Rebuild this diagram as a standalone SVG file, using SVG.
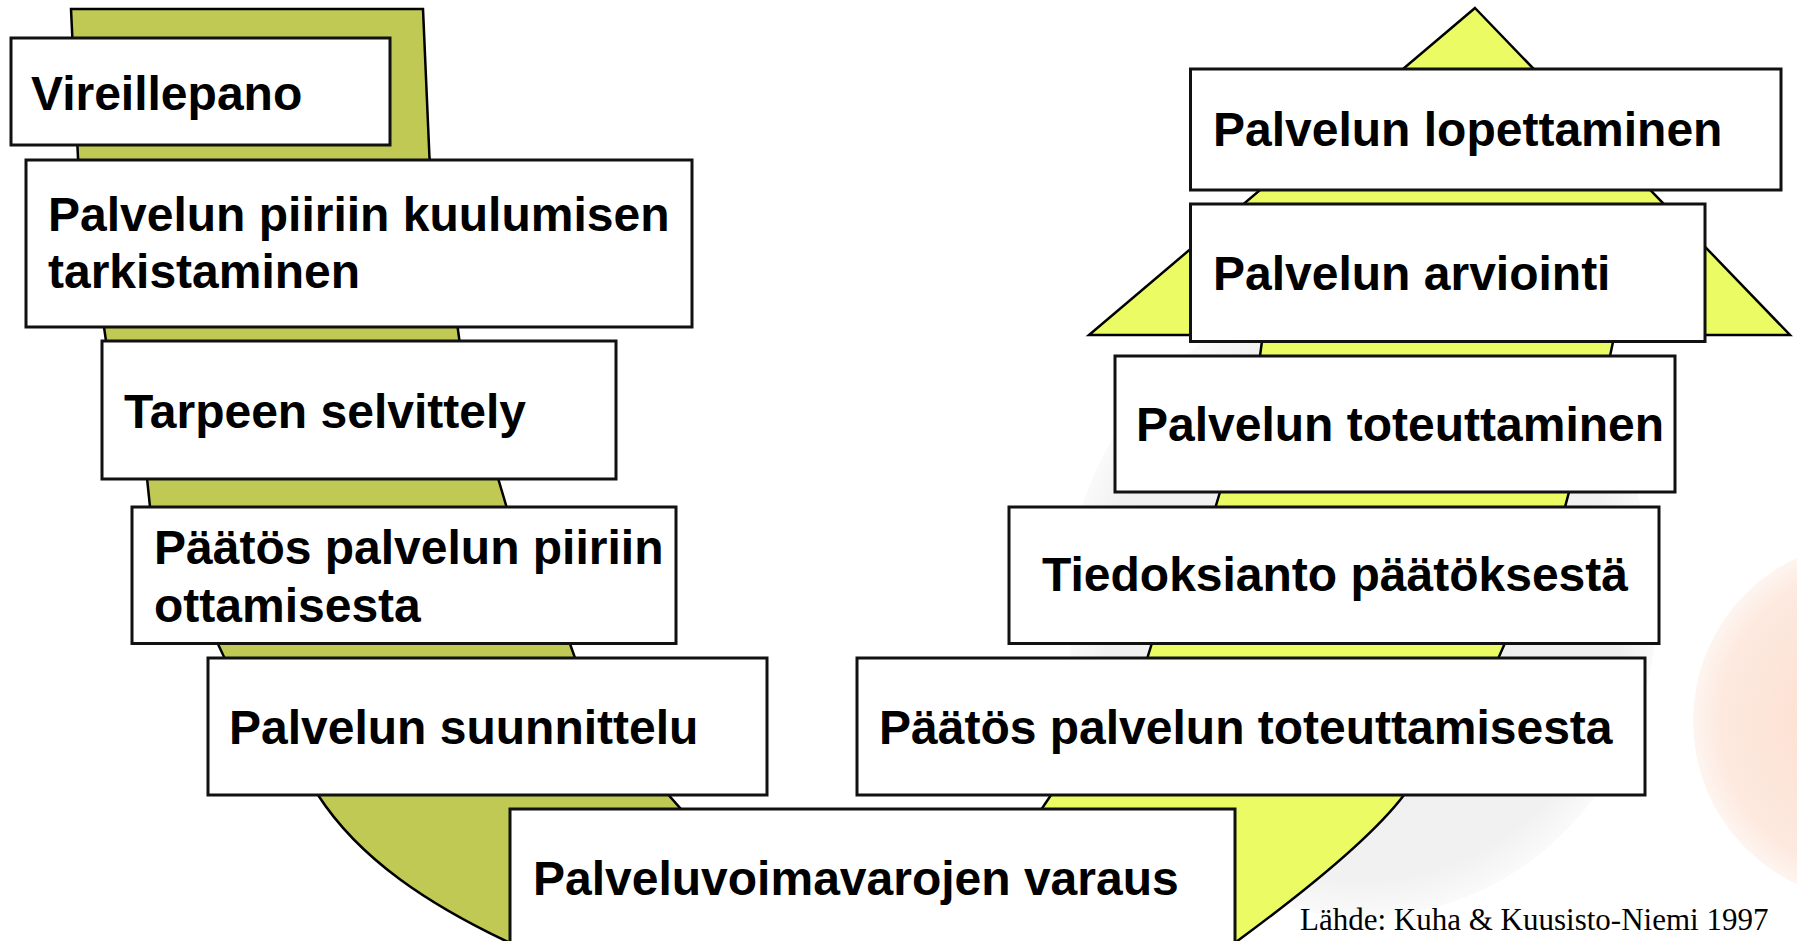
<svg xmlns="http://www.w3.org/2000/svg" width="1797" height="941" viewBox="0 0 1797 941">
<defs>
<radialGradient id="gGray" cx="0.5" cy="0.5" r="0.5">
<stop offset="0" stop-color="#efefef"/>
<stop offset="0.88" stop-color="#f1f1f1"/>
<stop offset="1" stop-color="#fafafa"/>
</radialGradient>
<radialGradient id="gPeach" cx="0.5" cy="0.5" r="0.5">
<stop offset="0" stop-color="#fbdccb"/>
<stop offset="0.85" stop-color="#fde9df"/>
<stop offset="1" stop-color="#fef5f0"/>
</radialGradient>
<style>
.box{fill:#ffffff;stroke:#111111;stroke-width:3}
.lbl{font-family:"Liberation Sans",Arial,sans-serif;font-weight:bold;font-size:48px;fill:#000000}
.band{stroke:#000000;stroke-width:2.5;stroke-linejoin:miter}
.green{fill:#bfc953}
.yellow{fill:#ebfb63}
.src{font-family:"Liberation Serif","Times New Roman",serif;font-size:31px;fill:#000000}
</style>
</defs>
<rect x="0" y="0" width="1797" height="941" fill="#ffffff"/>
<g id="background">
<ellipse cx="1362" cy="605" rx="295" ry="312" fill="url(#gGray)"/>
<circle cx="1873" cy="721" r="180" fill="url(#gPeach)"/>
</g>
<g id="connectors">
<path class="band green" d="M71,9 L423,9 L429.5,158 L457.6,327 L459.5,341 L498,478 L506.6,507 L569.7,643 L575,658 L668.6,795 L681,809 L870,960 L510,960 L508,942 C430,905 360,860 318,795 L224.5,658 L217.5,643 L150,507 L147,478 L106,341 L104,327 L78,158 Z"/>
<path class="band yellow" d="M1475,8 L1790,335 L1614.5,335 L1613,342 L1610,356 L1569,492 L1565,507 L1505,643 L1498,659 L1404,795 C1370,840 1300,895 1236,942 L1236,960 L880,960 L1041,810 L1051,795 L1147,659 L1152,643 L1215.5,507 L1220,492 L1260,356 L1262,341 L1262.8,335 L1089,335 Z"/>
</g>
<g id="n-vireillepano">
<rect class="box" x="11" y="38" width="379" height="107"/>
<text class="lbl" x="31" y="110">Vireillepano</text>
</g>
<g id="n-tarkistaminen">
<rect class="box" x="26" y="160" width="666" height="167"/>
<text class="lbl" x="48" y="231">Palvelun piiriin kuulumisen</text>
<text class="lbl" x="48" y="288">tarkistaminen</text>
</g>
<g id="n-tarpeen-selvittely">
<rect class="box" x="102" y="341" width="514" height="138"/>
<text class="lbl" x="124" y="428">Tarpeen selvittely</text>
</g>
<g id="n-paatos-piiriin">
<rect class="box" x="132" y="507" width="544" height="136.5"/>
<text class="lbl" x="154" y="564">Päätös palvelun piiriin</text>
<text class="lbl" x="154" y="622">ottamisesta</text>
</g>
<g id="n-suunnittelu">
<rect class="box" x="208" y="658" width="559" height="137"/>
<text class="lbl" x="229" y="744">Palvelun suunnittelu</text>
</g>
<g id="n-varaus">
<rect class="box" x="510" y="809" width="725" height="160"/>
<text class="lbl" x="533" y="895">Palveluvoimavarojen varaus</text>
</g>
<g id="n-paatos-toteuttamisesta">
<rect class="box" x="857" y="658" width="788" height="137"/>
<text class="lbl" x="879" y="744">Päätös palvelun toteuttamisesta</text>
</g>
<g id="n-tiedoksianto">
<rect class="box" x="1009" y="507" width="650" height="136.5"/>
<text class="lbl" x="1042" y="591">Tiedoksianto päätöksestä</text>
</g>
<g id="n-toteuttaminen">
<rect class="box" x="1115" y="356" width="560" height="136"/>
<text class="lbl" x="1136" y="441">Palvelun toteuttaminen</text>
</g>
<g id="n-arviointi">
<rect class="box" x="1190.5" y="204" width="514.5" height="137.5"/>
<text class="lbl" x="1213" y="289.5">Palvelun arviointi</text>
</g>
<g id="n-lopettaminen">
<rect class="box" x="1190.5" y="69" width="590.5" height="121"/>
<text class="lbl" x="1213" y="146">Palvelun lopettaminen</text>
</g>
<g id="source">
<text class="src" x="1300" y="930">Lähde: Kuha &amp; Kuusisto-Niemi 1997</text>
</g>
</svg>
